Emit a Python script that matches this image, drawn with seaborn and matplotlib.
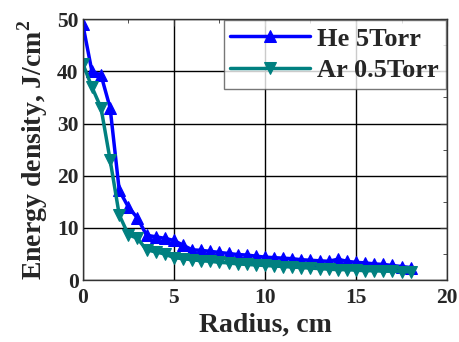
import numpy as np
import pandas as pd
import matplotlib
matplotlib.use('Agg')
import matplotlib.pyplot as plt
import seaborn as sns
from matplotlib.ticker import MultipleLocator

# radius positions (cm) and energy density (J/cm^2)
radius = [0, 0.5, 1, 1.5, 2, 2.5, 3, 3.5, 4, 4.5, 5, 5.5, 6, 6.5, 7, 7.5, 8, 8.5,
          9, 9.5, 10, 10.5, 11, 11.5, 12, 12.5, 13, 13.5, 14, 14.5, 15, 15.5, 16,
          16.5, 17, 17.5, 18]
he_5torr = [49, 40, 39.3, 33, 17.2, 14, 11.9, 8.6, 8.3, 8.0, 7.6, 6.7, 5.8, 5.7,
            5.5, 5.3, 5.1, 4.9, 4.8, 4.6, 4.4, 4.3, 4.2, 4.1, 3.9, 3.8, 3.7, 3.6,
            4.0, 3.6, 3.4, 3.3, 3.1, 3.0, 2.8, 2.6, 2.4]
ar_05torr = [41.5, 37, 33, 23, 12.5, 8.7, 8.0, 5.8, 5.4, 5.0, 4.3, 4.1, 3.9, 3.7,
             3.6, 3.4, 3.3, 3.1, 3.0, 2.9, 2.8, 2.7, 2.6, 2.5, 2.4, 2.3, 2.2, 2.1,
             2.0, 2.0, 1.9, 1.8, 1.8, 1.7, 1.7, 1.6, 1.6]
series_names = ['He 5Torr', 'Ar 0.5Torr']
colors = ['#0000FF', '#008080']
markers = ['^', 'v']

df = pd.DataFrame({'Radius': radius * 2,
                   'Energy': he_5torr + ar_05torr,
                   'Gas': [series_names[0]] * len(radius) + [series_names[1]] * len(radius)})

sns.set_style('white')
plt.rcParams['font.family'] = ['Liberation Serif', 'DejaVu Serif']
plt.rcParams['font.weight'] = 'bold'
plt.rcParams['mathtext.fontset'] = 'custom'
plt.rcParams['mathtext.rm'] = 'Liberation Serif:bold'

fig = plt.figure(figsize=(4.6, 3.42), dpi=100)
ax = fig.add_axes([0.180, 0.181, 0.792, 0.763])

for name, c, m in zip(series_names, colors, markers):
    sub = df[df['Gas'] == name]
    sns.lineplot(x='Radius', y='Energy', data=sub, ax=ax, color=c, marker=m,
                 markersize=9, markeredgecolor=c, linewidth=2.5, label=name)

ax.set_xlim(0, 20)
ax.set_ylim(0, 50)
ax.xaxis.set_major_locator(MultipleLocator(5))
ax.xaxis.set_minor_locator(MultipleLocator(2.5))
ax.yaxis.set_major_locator(MultipleLocator(10))
ax.yaxis.set_minor_locator(MultipleLocator(5))
ax.grid(True, which='major', color='black', linewidth=1)
ax.set_axisbelow(True)
ax.tick_params(which='both', direction='in', top=True, right=True, labelsize=15.5,
               color='#333333')
ax.tick_params(axis='x', which='both', pad=6)
ax.tick_params(axis='y', which='both', pad=3)
ax.tick_params(which='major', length=5)
ax.tick_params(which='minor', length=3)
for s in ax.spines.values():
    s.set_color('#333333')
    s.set_linewidth(1)

ax.set_xlabel('Radius, cm', fontsize=20, fontweight='bold', labelpad=3)
ax.set_ylabel('Energy density, J/cm$^2$', fontsize=20, fontweight='bold', labelpad=5)

leg = ax.legend(loc='upper right', fontsize=19, frameon=True, fancybox=False,
                handlelength=3.0, borderpad=0.25, labelspacing=0.3,
                borderaxespad=0.05, handletextpad=0.3)
leg.get_frame().set_edgecolor('#555555')
leg.get_frame().set_linewidth(1)
for t in leg.get_texts():
    t.set_fontweight('bold')

fig.savefig('out.png', dpi=100)
